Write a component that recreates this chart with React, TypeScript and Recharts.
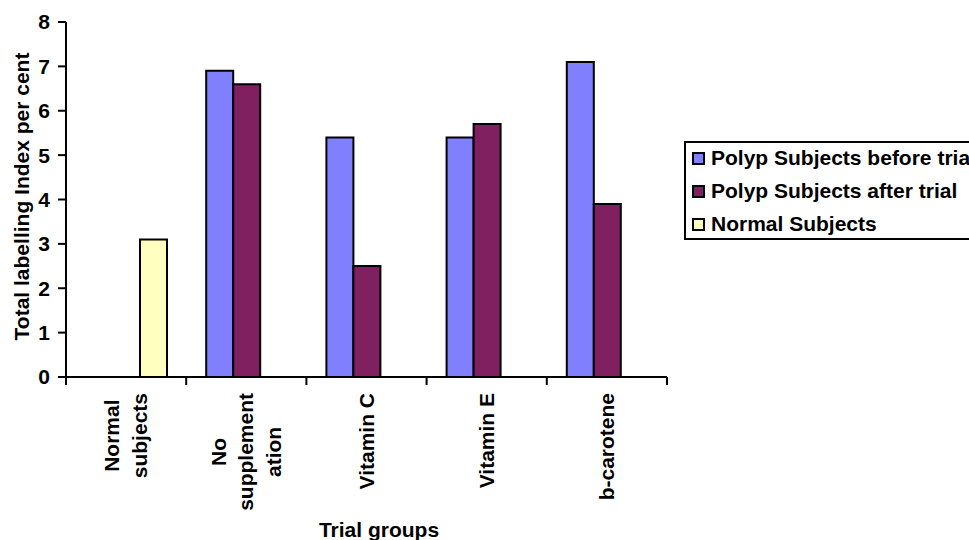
import React from 'react';
import { BarChart, Bar, XAxis, YAxis, Legend } from 'recharts';

const categories = ['Normal subjects', 'No supplementation', 'Vitamin C', 'Vitamin E', 'b-carotene'];
const tickLabelLines = [['Normal', 'subjects'], ['No', 'supplement', 'ation'], ['Vitamin C'], ['Vitamin E'], ['b-carotene']];
const beforeTrial = [null, 6.9, 5.4, 5.4, 7.1];
const afterTrial = [null, 6.6, 2.5, 5.7, 3.9];
const normalSubjects = [3.1, null, null, null, null];
const yTicks = [0, 1, 2, 3, 4, 5, 6, 7, 8];
const seriesNames = ['Polyp Subjects before trial', 'Polyp Subjects after trial', 'Normal Subjects'];
const yAxisTitle = 'Total labelling Index per cent';
const xAxisTitle = 'Trial groups';

const data = categories.map((c, i) => ({
  name: c,
  before: beforeTrial[i],
  after: afterTrial[i],
  normal: normalSubjects[i],
}));

const FONT = "'Liberation Sans', Arial, sans-serif";
const FS = 21;
const W = 969;
const H = 540;
const M_LEFT = 66;
const M_RIGHT = 302;
const BAND = (W - M_LEFT - M_RIGHT) / categories.length;
const LH = 27.5;

let ctx: any = null;
function measure(t: string) {
  if (!ctx) {
    ctx = document.createElement('canvas').getContext('2d');
  }
  ctx.font = `bold ${FS}px 'Liberation Sans'`;
  return ctx.measureText(t).width;
}

const XTick = (props: any) => {
  const { x, y, payload } = props;
  const idx = categories.indexOf(payload.value);
  const lines = tickLabelLines[idx] || [String(payload.value)];
  const maxW = Math.max(...lines.map(measure));
  const cy = y + 16 + maxW / 2;
  const n = lines.length;
  const half = BAND / 2;
  return (
    <g>
      <line x1={x - half} x2={x - half} y1={y} y2={y + 8} stroke="#000" strokeWidth={2} />
      {idx === categories.length - 1 && (
        <line x1={x + half} x2={x + half} y1={y} y2={y + 8} stroke="#000" strokeWidth={2} />
      )}
      {lines.map((ln, i) => {
        const lx = x + (i - (n - 1) / 2) * LH + 7;
        return (
          <text
            key={i}
            x={lx}
            y={cy}
            transform={`rotate(-90 ${lx} ${cy})`}
            textAnchor="middle"
            fontSize={FS}
            fontWeight="bold"
            fontFamily={FONT}
            fill="#000"
          >
            {ln}
          </text>
        );
      })}
    </g>
  );
};

const YTitle = (props: any) => {
  const vb = props.viewBox || { x: 0, y: 22, width: 66, height: 355 };
  const cx = 29;
  const cy = vb.y + vb.height / 2 - 3;
  return (
    <text
      x={cx}
      y={cy}
      transform={`rotate(-90 ${cx} ${cy})`}
      textAnchor="middle"
      fontSize={FS}
      fontWeight="bold"
      fontFamily={FONT}
      fill="#000"
    >
      {yAxisTitle}
    </text>
  );
};

const XTitle = (props: any) => {
  const vb = props.viewBox || { x: 66, y: 377, width: 601, height: 163 };
  return (
    <text
      x={vb.x + vb.width / 2 + 12.5}
      y={vb.y + vb.height - 3}
      textAnchor="middle"
      fontSize={FS}
      fontWeight="bold"
      fontFamily={FONT}
      fill="#000"
    >
      {xAxisTitle}
    </text>
  );
};

const LegendBox = (props: any) => {
  const payload = [...(props.payload || [])].sort(
    (a: any, b: any) => seriesNames.indexOf(a.value) - seriesNames.indexOf(b.value)
  );
  return (
    <div
      style={{
        border: '2px solid #000',
        width: 320,
        height: 99,
        boxSizing: 'border-box',
        background: '#fff',
        paddingLeft: 6,
        paddingTop: 0,
      }}
    >
      {payload.map((p: any, i: number) => (
        <div
          key={i}
          style={{
            height: 33,
            display: 'flex',
            alignItems: 'center',
            whiteSpace: 'nowrap',
            marginTop: i === 0 ? -1.5 : 0,
          }}
        >
          <span
            style={{
              display: 'inline-block',
              width: 13,
              height: 13,
              boxSizing: 'border-box',
              border: '2px solid #000',
              background: p.color,
              marginRight: 6,
            }}
          />
          <span style={{ fontFamily: FONT, fontWeight: 'bold', fontSize: FS, color: '#000' }}>{p.value}</span>
        </div>
      ))}
    </div>
  );
};

export default function App() {
  return (
    <div style={{ position: 'absolute', left: 0, top: 0, width: W, height: H, overflow: 'hidden', background: '#fff' }}>
      <BarChart
        width={W}
        height={H}
        data={data}
        margin={{ top: 22, right: M_RIGHT, bottom: 0, left: 0 }}
        barGap={0}
        barSize={27}
      >
        <XAxis
          dataKey="name"
          height={163}
          interval={0}
          tickLine={false}
          tickSize={0}
          tickMargin={0}
          axisLine={{ stroke: '#000', strokeWidth: 2 }}
          tick={<XTick />}
          label={(p: any) => <XTitle {...p} />}
        />
        <YAxis
          width={M_LEFT}
          domain={[0, 8]}
          ticks={yTicks}
          interval={0}
          tickSize={8}
          tickMargin={8}
          axisLine={{ stroke: '#000', strokeWidth: 2 }}
          tickLine={{ stroke: '#000', strokeWidth: 2 }}
          tick={{ fill: '#000', fontSize: FS, fontWeight: 'bold', fontFamily: FONT }}
          label={(p: any) => <YTitle {...p} />}
        />
        <Legend
          layout="vertical"
          align="center"
          verticalAlign="middle"
          wrapperStyle={{ left: 684, top: 141, width: 320 }}
          content={(p: any) => <LegendBox {...p} />}
        />
        <Bar dataKey="before" name={seriesNames[0]} fill="#8080FF" stroke="#000" strokeWidth={2} isAnimationActive={false} />
        <Bar dataKey="after" name={seriesNames[1]} fill="#802060" stroke="#000" strokeWidth={2} isAnimationActive={false} />
        <Bar dataKey="normal" name={seriesNames[2]} fill="#FFFFC0" stroke="#000" strokeWidth={2} isAnimationActive={false} />
      </BarChart>
    </div>
  );
}
